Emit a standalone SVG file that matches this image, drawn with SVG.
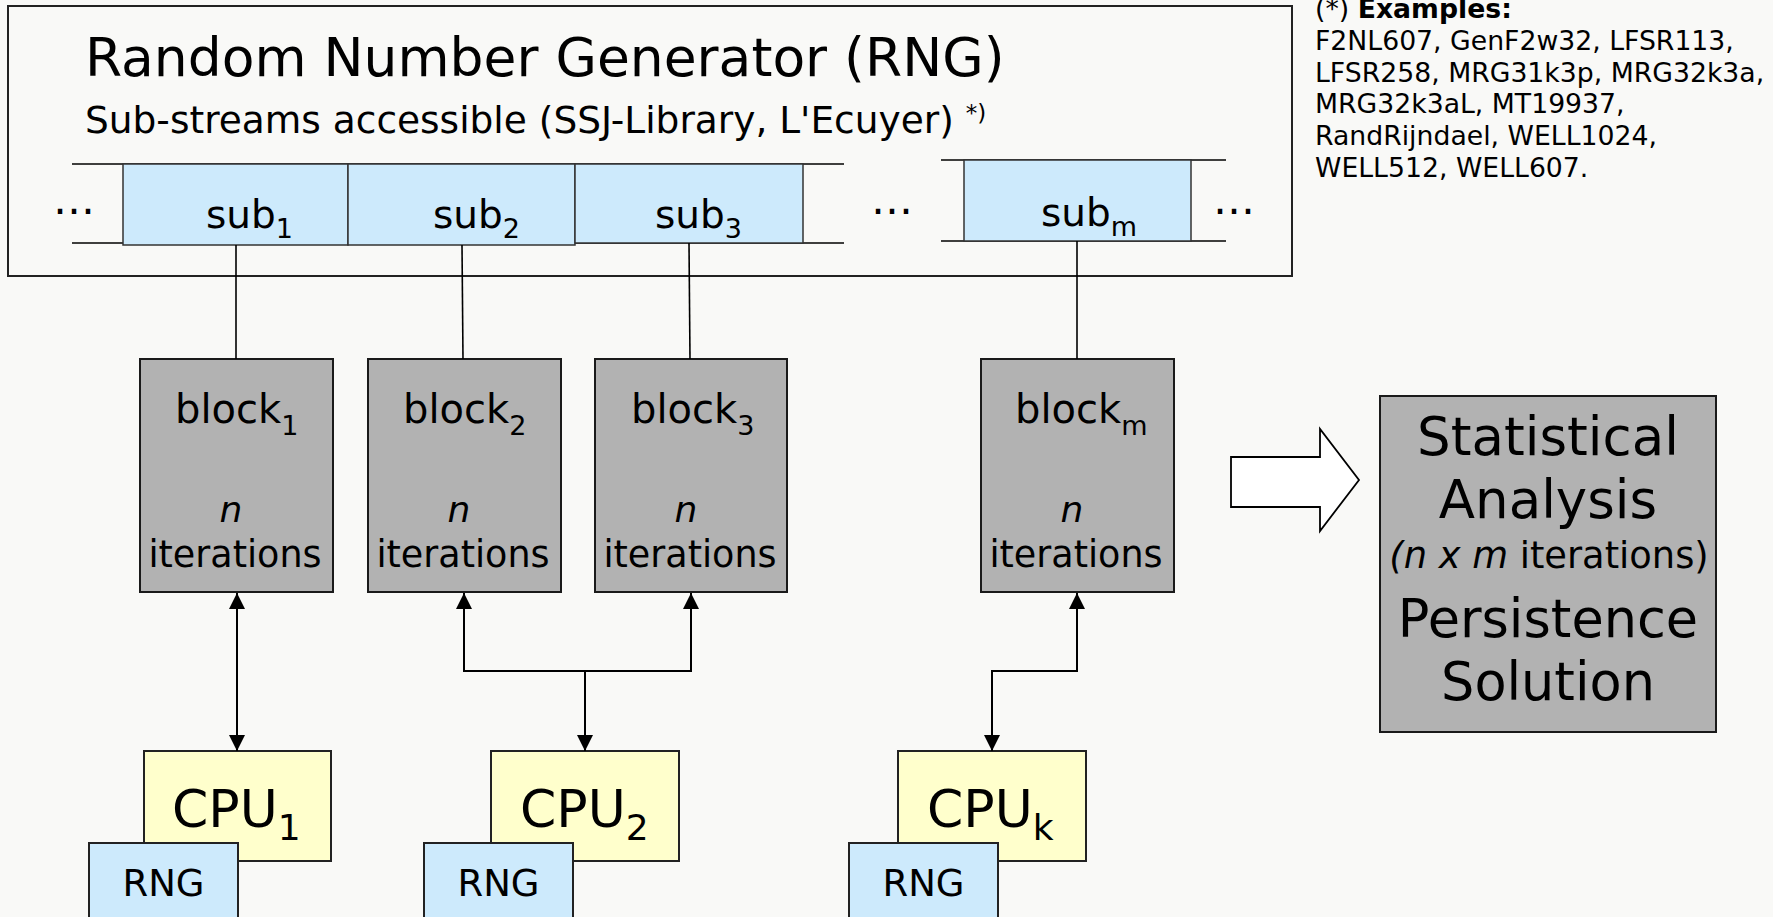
<svg xmlns="http://www.w3.org/2000/svg" width="1773" height="917" viewBox="0 0 1773 917">
<defs>
<style>
text{font-family:"DejaVu Sans","Liberation Sans",sans-serif;fill:#000}
.sub{fill:#cdeafc;stroke:#333;stroke-width:1.5}
.blk{fill:#b2b2b2;stroke:#1a1a1a;stroke-width:2}
.cpu{fill:#ffffcc;stroke:#222;stroke-width:2}
.rng{fill:#cdeafc;stroke:#222;stroke-width:2}
.ln{stroke:#000;stroke-width:1.6;fill:none}
.con{stroke:#000;stroke-width:2;fill:none}
</style>
<marker id="ah" viewBox="0 0 16 16" refX="16" refY="8" markerWidth="16" markerHeight="16" markerUnits="userSpaceOnUse" orient="auto-start-reverse">
<path d="M0,0 L16,8 L0,16 Z" fill="#000"/>
</marker>
</defs>
<rect width="1773" height="917" fill="#f9f9f7"/>

<g id="rng-main">
<rect x="8" y="6" width="1284" height="270" fill="#f9f9f7" stroke="#222" stroke-width="2"/>
<text x="85" y="76" font-size="53.5">Random Number Generator (RNG)</text>
<text x="85" y="133" font-size="37.5">Sub-streams accessible (SSJ-Library, L'Ecuyer) <tspan font-size="23" dy="-12">*)</tspan></text>
<line class="ln" x1="72" y1="164" x2="844" y2="164"/>
<line class="ln" x1="72" y1="243" x2="844" y2="243"/>
<line class="ln" x1="941" y1="160" x2="1226" y2="160"/>
<line class="ln" x1="941" y1="241" x2="1226" y2="241"/>
<text x="53" y="214" font-size="42">…</text>
<text x="871" y="214" font-size="42">…</text>
<text x="1213" y="214" font-size="42">…</text>
</g>

<g id="sub1"><rect class="sub" x="123" y="164" width="225" height="81"/><text x="206" y="228" font-size="39">sub<tspan font-size="27" dy="10">1</tspan></text></g>
<g id="sub2"><rect class="sub" x="348" y="164" width="227" height="81"/><text x="433" y="228" font-size="39">sub<tspan font-size="27" dy="10">2</tspan></text></g>
<g id="sub3"><rect class="sub" x="575" y="164" width="228" height="79"/><text x="655" y="228" font-size="39">sub<tspan font-size="27" dy="10">3</tspan></text></g>
<g id="subm"><rect class="sub" x="964" y="160" width="227" height="81"/><text x="1041" y="226" font-size="39">sub<tspan font-size="27" dy="10">m</tspan></text></g>

<g id="block1"><rect class="blk" x="140" y="359" width="193" height="233"/><text x="175" y="423" font-size="40">block<tspan font-size="27" dy="12">1</tspan></text><text x="231" y="522" font-size="36" font-style="italic" text-anchor="middle">n</text><text x="235" y="567" font-size="36.5" text-anchor="middle">iterations</text></g>
<g id="block2"><rect class="blk" x="368" y="359" width="193" height="233"/><text x="403" y="423" font-size="40">block<tspan font-size="27" dy="12">2</tspan></text><text x="459" y="522" font-size="36" font-style="italic" text-anchor="middle">n</text><text x="463" y="567" font-size="36.5" text-anchor="middle">iterations</text></g>
<g id="block3"><rect class="blk" x="595" y="359" width="192" height="233"/><text x="631" y="423" font-size="40">block<tspan font-size="27" dy="12">3</tspan></text><text x="686" y="522" font-size="36" font-style="italic" text-anchor="middle">n</text><text x="690" y="567" font-size="36.5" text-anchor="middle">iterations</text></g>
<g id="blockm"><rect class="blk" x="981" y="359" width="193" height="233"/><text x="1015" y="423" font-size="40">block<tspan font-size="27" dy="12">m</tspan></text><text x="1072" y="522" font-size="36" font-style="italic" text-anchor="middle">n</text><text x="1076" y="567" font-size="36.5" text-anchor="middle">iterations</text></g>

<g id="cpu1"><rect class="cpu" x="144" y="751" width="187" height="110"/><text x="172" y="827" font-size="52">CPU<tspan font-size="36" dy="13">1</tspan></text></g>
<g id="rng1"><rect class="rng" x="89" y="843" width="149" height="80"/><text x="163.5" y="896" font-size="37" text-anchor="middle">RNG</text></g>
<g id="cpu2"><rect class="cpu" x="491" y="751" width="188" height="110"/><text x="520" y="827" font-size="52">CPU<tspan font-size="36" dy="13">2</tspan></text></g>
<g id="rng2"><rect class="rng" x="424" y="843" width="149" height="80"/><text x="498.5" y="896" font-size="37" text-anchor="middle">RNG</text></g>
<g id="cpuk"><rect class="cpu" x="898" y="751" width="188" height="110"/><text x="927" y="827" font-size="52">CPU<tspan font-size="36" dy="13">k</tspan></text></g>
<g id="rngk"><rect class="rng" x="849" y="843" width="149" height="80"/><text x="923.5" y="896" font-size="37" text-anchor="middle">RNG</text></g>

<g id="big-arrow"><polygon points="1231,457 1320,457 1320,429 1359,480 1320,531 1320,507 1231,507" fill="#fff" stroke="#000" stroke-width="1.8"/></g>

<g id="stats"><rect class="blk" x="1380" y="396" width="336" height="336"/>
<text x="1548" y="455" font-size="53" text-anchor="middle">Statistical</text>
<text x="1548" y="518" font-size="53" text-anchor="middle">Analysis</text>
<text x="1549" y="568" font-size="36.8" text-anchor="middle"><tspan font-style="italic">(n x m</tspan> iterations)</text>
<text x="1548" y="637" font-size="52.5" text-anchor="middle">Persistence</text>
<text x="1548" y="700" font-size="52.5" text-anchor="middle">Solution</text>
</g>

<g id="examples" font-size="26.7">
<text x="1315" y="18">(*) <tspan font-weight="bold">Examples:</tspan></text>
<text x="1315" y="50">F2NL607, GenF2w32, LFSR113,</text>
<text x="1315" y="82">LFSR258, MRG31k3p, MRG32k3a,</text>
<text x="1315" y="113">MRG32k3aL, MT19937,</text>
<text x="1315" y="145">RandRijndael, WELL1024,</text>
<text x="1315" y="177">WELL512, WELL607.</text>
</g>

<g id="connectors">
<line class="ln" x1="236" y1="245" x2="236" y2="359"/>
<line class="ln" x1="462" y1="245" x2="463" y2="359"/>
<line class="ln" x1="689" y1="243" x2="690" y2="359"/>
<line class="ln" x1="1077" y1="241" x2="1077" y2="359"/>
<path class="con" d="M237,593 V751" marker-start="url(#ah)" marker-end="url(#ah)"/>
<path class="con" d="M464,593 V671 H691 V593" marker-start="url(#ah)" marker-end="url(#ah)"/>
<path class="con" d="M585,671 V751" marker-end="url(#ah)"/>
<path class="con" d="M1077,593 V671 H992 V751" marker-start="url(#ah)" marker-end="url(#ah)"/>
</g>
</svg>
